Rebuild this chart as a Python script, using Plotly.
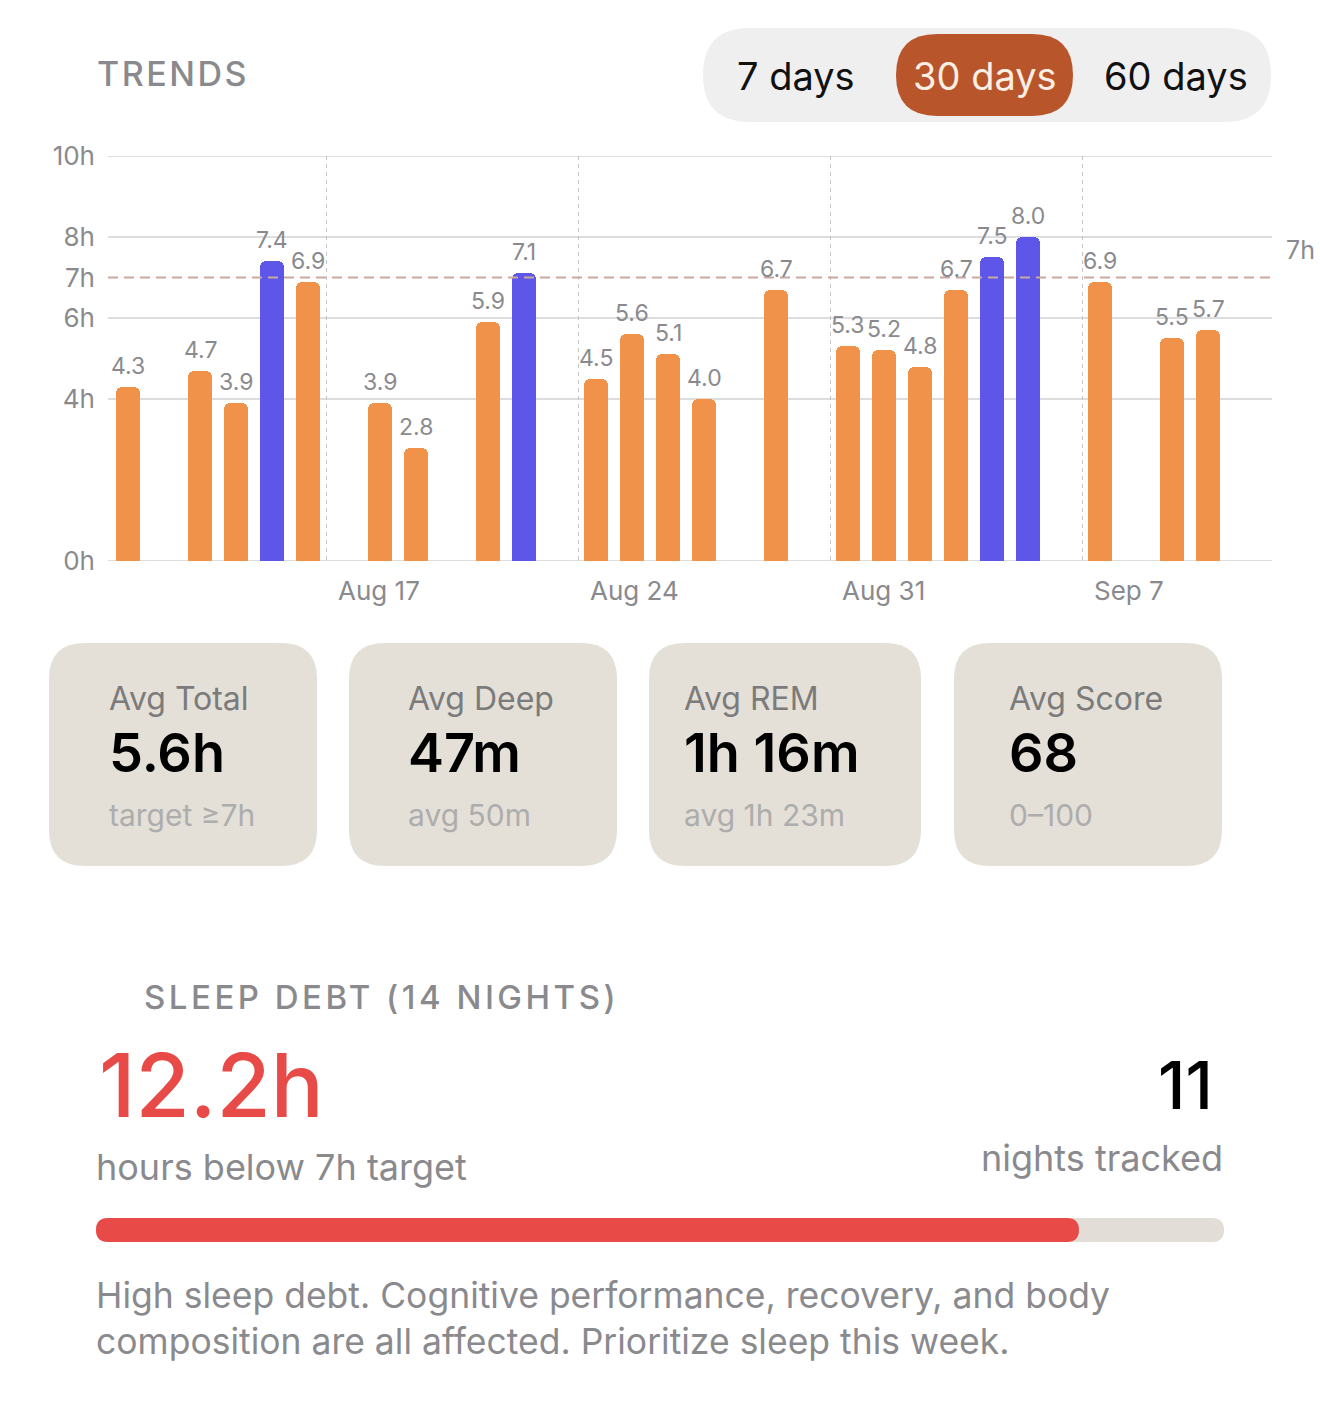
import plotly.graph_objects as go

W, H = 1320, 1425

# nightly sleep (hours), one bar per tracked night
nights = ["2025-08-11", "2025-08-13", "2025-08-14", "2025-08-15", "2025-08-16",
          "2025-08-18", "2025-08-19", "2025-08-21", "2025-08-22",
          "2025-08-24", "2025-08-25", "2025-08-26", "2025-08-27", "2025-08-29",
          "2025-08-31", "2025-09-01", "2025-09-02", "2025-09-03", "2025-09-04",
          "2025-09-05", "2025-09-07", "2025-09-09", "2025-09-10"]
hours = [4.3, 4.7, 3.9, 7.4, 6.9, 3.9, 2.8, 5.9, 7.1, 4.5, 5.6, 5.1, 4.0, 6.7,
         5.3, 5.2, 4.8, 6.7, 7.5, 8.0, 6.9, 5.5, 5.7]
target = 7

week_ticks = ["2025-08-17", "2025-08-24", "2025-08-31", "2025-09-07"]
week_labels = ["Aug 17", "Aug 24", "Aug 31", "Sep 7"]
hour_ticks = [0, 4, 6, 7, 8, 10]
hour_labels = ["0h", "4h", "6h", "7h", "8h", "10h"]
grid_hours = [0, 4, 6, 8, 10]

ranges = ["7 days", "30 days", "60 days"]
selected = "30 days"

card_titles = ["Avg Total", "Avg Deep", "Avg REM", "Avg Score"]
card_values = ["5.6h", "47m", "1h 16m", "68"]
card_subs = ["target ≥7h", "avg 50m", "avg 1h 23m", "0–100"]

debt_hours = 12.2
debt_max = 14
nights_tracked = 11
advice = ["High sleep debt. Cognitive performance, recovery, and body",
          "composition are all affected. Prioritize sleep this week."]

ORANGE = "#F0924A"
BLUE = "#5E56E8"
GRAY = "#8A8A8E"
RED = "#E84A47"
CARD = "#E4E0D8"
FONT = "Inter"


def px(x):
    return x / W


def py(y):
    return 1 - y / H


def rrect(x0, y0, x1, y1, r, color):
    p = [(x0 + r, y0), (x1 - r, y0), (x1, y0), (x1, y0 + r), (x1, y1 - r), (x1, y1),
         (x1 - r, y1), (x0 + r, y1), (x0, y1), (x0, y1 - r), (x0, y0 + r), (x0, y0)]
    q = [f"{px(a):.5f},{py(b):.5f}" for a, b in p]
    path = (f"M{q[0]} L{q[1]} Q{q[2]} {q[3]} L{q[4]} Q{q[5]} {q[6]} L{q[7]} "
            f"Q{q[8]} {q[9]} L{q[10]} Q{q[11]} {q[0]} Z")
    return dict(type="path", path=path, xref="paper", yref="paper",
                fillcolor=color, line=dict(width=0), layer="below")


def label(x, y, text, size, color, anchor="left", weight=400):
    # annotations carry ~3px of padding, pull them back so the ink starts at x
    shift = {"left": -3, "right": 3, "center": 0}[anchor]
    return dict(x=px(x), y=py(y), xref="paper", yref="paper", text=text,
                showarrow=False, xanchor=anchor, yanchor="middle", align=anchor,
                xshift=shift,
                font=dict(family=FONT, size=size, color=color, weight=weight))


x_mid = [d + " 12:00" for d in nights]
colors = [BLUE if h >= target else ORANGE for h in hours]

fig = go.Figure(go.Bar(
    x=x_mid, y=hours, width=57600000,
    marker=dict(color=colors, cornerradius=6, line=dict(width=0)),
    hoverinfo="x+y",
))

shapes = []
for g in grid_hours:
    shapes.append(dict(type="line", xref="paper", yref="y", x0=px(108), x1=px(1272),
                       y0=g, y1=g, line=dict(color="#D2D2D4", width=1.5), layer="below"))
shapes.append(dict(type="line", xref="paper", yref="y", x0=px(108), x1=px(1272),
                   y0=target, y1=target, line=dict(color="#C9A8A0", width=2, dash="10px,6px")))

# segmented control
shapes.append(rrect(703, 28, 1271, 122, 47, "#EFEFEF"))
shapes.append(rrect(896, 34, 1073, 116, 41, "#B8552B"))

# stat cards
card_x0 = [49, 349, 649, 954]
card_x1 = [317, 617, 921, 1222]
card_tx = [110, 409, 685, 1010]
for a, b in zip(card_x0, card_x1):
    shapes.append(rrect(a, 643, b, 866, 36, CARD))

# sleep debt bar
fill = min(debt_hours / debt_max, 1)
shapes.append(rrect(96, 1218, 1224, 1242, 12, "#E2DDD6"))
shapes.append(rrect(96, 1218, 96 + (1224 - 96) * fill, 1242, 12, RED))

ann = []
for x, h in zip(x_mid, hours):
    ann.append(dict(x=x, y=h, xref="x", yref="y", text=f"{h:.1f}", showarrow=False,
                    yanchor="bottom", yshift=5,
                    font=dict(family=FONT, size=23, color=GRAY)))
ann.append(dict(x=px(1300), y=target, xref="paper", yref="y", text=f"{target}h",
                showarrow=False, xanchor="center", yshift=27,
                font=dict(family=FONT, size=25, color=GRAY)))

ann.append(label(98, 74, '<span style="letter-spacing:2.5px">TRENDS</span>', 34, GRAY, weight=500))
seg_cx = [796, 985, 1176]
for cx, r in zip(seg_cx, ranges):
    ann.append(label(cx, 76, r, 38, "#FBEEE4" if r == selected else "#111111", "center"))

for tx, t, v, s in zip(card_tx, card_titles, card_values, card_subs):
    ann.append(label(tx, 698, t, 32, "#7B7B7B"))
    ann.append(label(tx, 753, v, 54, "#000000", weight=600))
    ann.append(label(tx, 815, s, 30, "#ADADAD"))

ann.append(label(145, 997, '<span style="letter-spacing:3.5px">SLEEP DEBT (14 NIGHTS)</span>',
                 33, GRAY, weight=500))
ann.append(label(100, 1085, f"{debt_hours}h", 88, RED, weight=500))
ann.append(label(97, 1167, f"hours below {target}h target", 36, GRAY))
ann.append(label(1212, 1085, str(nights_tracked), 66, "#000000", "right", weight=500))
ann.append(label(1222, 1158, "nights tracked", 36, GRAY, "right"))
ann.append(label(97, 1295, advice[0], 35.5, GRAY))
ann.append(label(97, 1341, advice[1], 35.5, GRAY))

fig.update_layout(
    width=W, height=H, autosize=False,
    margin=dict(l=0, r=0, t=0, b=0, autoexpand=False),
    paper_bgcolor="white", plot_bgcolor="white",
    showlegend=False, bargap=0,
    shapes=shapes, annotations=ann,
    xaxis=dict(type="date", range=["2025-08-10 22:40", "2025-09-12 06:40"],
               domain=[px(108), px(1272)], anchor="y", automargin=False,
               tickvals=week_ticks, ticktext=week_labels,
               showgrid=True, gridcolor="#C4C4C6", gridwidth=1, griddash="4px,4px",
               zeroline=False, showline=False, ticks="",
               ticklabelposition="outside right", ticklabelshift=12, ticklabelstandoff=12,
               tickfont=dict(family=FONT, size=26, color=GRAY), fixedrange=True),
    yaxis=dict(range=[0, 10], domain=[py(561), py(156)], anchor="x", automargin=False,
               tickvals=hour_ticks, ticktext=hour_labels,
               showgrid=False, zeroline=False, showline=False, ticks="",
               ticklabelstandoff=12,
               tickfont=dict(family=FONT, size=26, color=GRAY), fixedrange=True),
)

fig.write_html("out.html", config={"displayModeBar": False},
               post_script="document.body.style.margin='0';")
